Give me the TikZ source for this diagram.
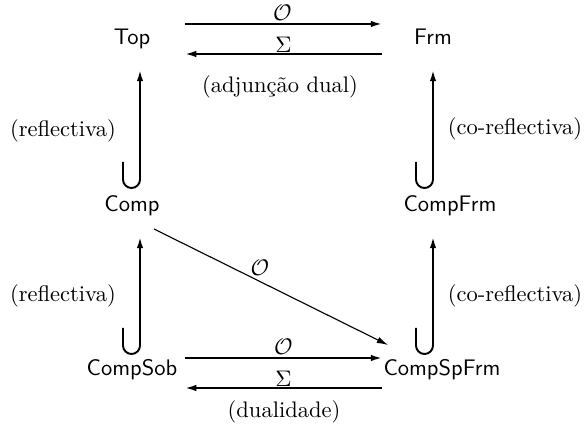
\documentclass[tikz,border=0pt]{standalone}
\usepackage{fontspec}
\usetikzlibrary{arrows.meta}
\begin{document}
\begin{tikzpicture}[x=0.4444pt,y=0.4444pt,
  obj/.style={anchor=base,inner sep=0pt,font=\sffamily},
  lbl/.style={inner sep=0pt},
  arr/.style={line width=0.85pt,-{Latex[length=5pt,width=2.9pt]}},
  thinarr/.style={line width=0.5pt,-{Latex[length=5pt,width=2.9pt]}},
  hookarr/.style={line width=0.85pt,-{Latex[length=5pt,width=2.9pt]}}]
\useasboundingbox (0,0) rectangle (585,432);
% objects
\node[obj] (Top) at (132,387) {Top};
\node[obj] (Frm) at (433,387) {Frm};
\node[obj] (Comp) at (132,220) {Comp};
\node[obj] (CompFrm) at (450,220) {CompFrm};
\node[obj] (CompSob) at (132,56) {CompSob};
\node[obj] (CompSpFrm) at (442,56) {CompSpFrm};
% arrow end coordinates
\coordinate (a1s) at (185,408); \coordinate (a1e) at (382,408);
\coordinate (a2s) at (382,378); \coordinate (a2e) at (185,378);
\coordinate (b1s) at (185,74);  \coordinate (b1e) at (382,74);
\coordinate (b2s) at (382,44);  \coordinate (b2e) at (185,44);
\coordinate (d1s) at (154,203); \coordinate (d1e) at (388,87);
\coordinate (ulh) at (123,270); \coordinate (ult) at (140,362);
\coordinate (urh) at (416,270); \coordinate (urt) at (433,362);
\coordinate (llh) at (123,104); \coordinate (llt) at (140,195);
\coordinate (lrh) at (416,104); \coordinate (lrt) at (433,195);
% top pair Top <-> Frm
\draw[arr] (a1s) -- (a1e) node[lbl,midway,above,yshift=1.2pt,xshift=-0.5pt] {$\mathcal{O}$};
\draw[arr] (a2s) -- (a2e) node[lbl,midway,above,yshift=0.4pt] {$\Sigma$};
\node (adj) at (280,345) {(adjunção dual)};
% bottom pair CompSob <-> CompSpFrm
\draw[arr] (b1s) -- (b1e) node[lbl,midway,above,yshift=1.2pt] {$\mathcal{O}$};
\draw[arr] (b2s) -- (b2e) node[lbl,midway,above,yshift=0.4pt] {$\Sigma$};
\node (dual) at (284,20) {(dualidade)};
% diagonal Comp -> CompSpFrm
\draw[thinarr] (d1s) -- (d1e) node[lbl,pos=0.453,above,yshift=2.6pt] {$\mathcal{O}$};
% hooked inclusions
\draw[hookarr] (ulh) -- ++(0,-17.5) arc[start angle=180,end angle=360,radius=8.5] -- (ult);
\draw[hookarr] (urh) -- ++(0,-17.5) arc[start angle=180,end angle=360,radius=8.5] -- (urt);
\draw[hookarr] (llh) -- ++(0,-17.5) arc[start angle=180,end angle=360,radius=8.5] -- (llt);
\draw[hookarr] (lrh) -- ++(0,-17.5) arc[start angle=180,end angle=360,radius=8.5] -- (lrt);
% side labels
\node (r1) at (63,301) {(reflectiva)};
\node (r2) at (63,136) {(reflectiva)};
\node (c1) at (515,303) {(co-reflectiva)};
\node (c2) at (515,136) {(co-reflectiva)};
\end{tikzpicture}
\end{document}
